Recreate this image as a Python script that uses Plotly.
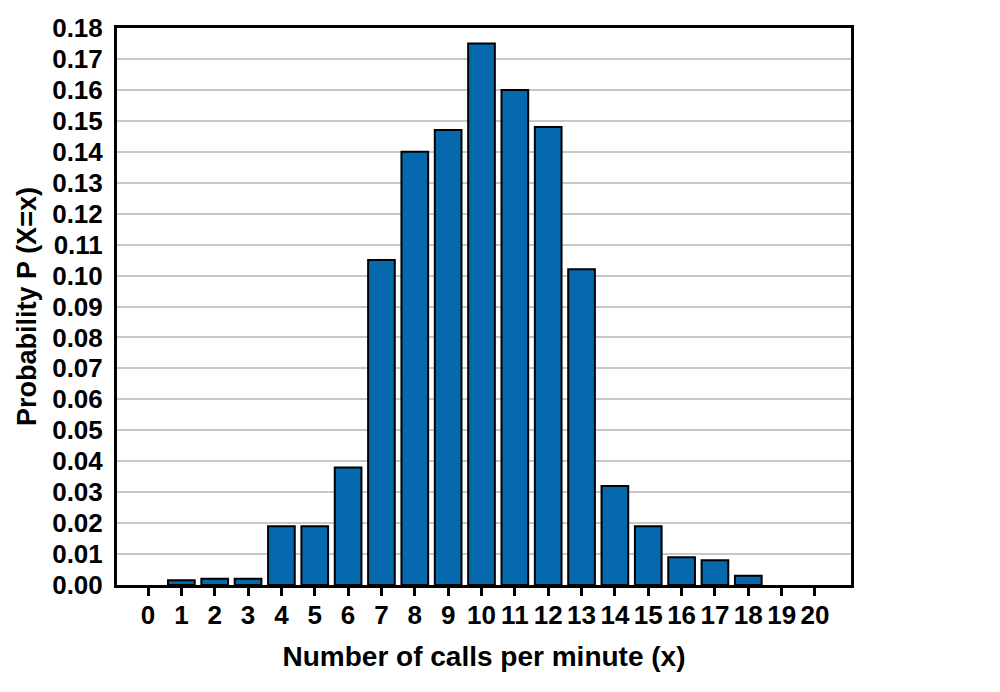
import plotly.graph_objects as go

categories = list(range(0, 21))
probabilities = [0.0, 0.0015, 0.002, 0.002, 0.019, 0.019, 0.038, 0.105, 0.140, 0.147,
                 0.175, 0.160, 0.148, 0.102, 0.032, 0.019, 0.009, 0.008, 0.003, 0.0, 0.0]
y_ticks = [i / 100 for i in range(0, 19)]
y_tick_labels = [f"{v:.2f}" for v in y_ticks]

font_family = "Liberation Sans, Arial, sans-serif"
outline_widths = [2 if p > 0 else 0 for p in probabilities]

fig = go.Figure(go.Bar(
    x=categories,
    y=probabilities,
    width=0.8,
    marker=dict(color="#0769ad", line=dict(color="black", width=outline_widths)),
))

fig.update_layout(
    width=1000, height=692,
    margin=dict(l=117, r=149, t=28, b=107),
    paper_bgcolor="white", plot_bgcolor="white",
    showlegend=False,
    font=dict(family=font_family, color="black"),
    bargap=0.2,
)
fig.update_xaxes(
    range=[-0.93, 21.08],
    tickmode="array", tickvals=categories, ticktext=[str(c) for c in categories],
    tickfont=dict(size=26, family=font_family, weight="bold"),
    ticks="outside", ticklen=8, tickwidth=3, tickcolor="black", ticklabelstandoff=-3,
    showline=True, linewidth=3, linecolor="black", mirror=True,
    showgrid=False, zeroline=False,
    title=dict(text="<b>Number of calls per minute (x)</b>", font=dict(size=28), standoff=18),
)
fig.update_yaxes(
    range=[0, 0.18],
    tickmode="array", tickvals=y_ticks, ticktext=y_tick_labels,
    tickfont=dict(size=26, family=font_family, weight="bold"),
    ticks="", ticklen=0, ticklabelstandoff=6,
    showline=True, linewidth=3, linecolor="black", mirror=True,
    showgrid=True, gridcolor="#c8c8c8", gridwidth=2,
    zeroline=False,
    title=dict(text="<b>Probability P (X=x)</b>", font=dict(size=27), standoff=8),
)

fig.write_html("out.html")
